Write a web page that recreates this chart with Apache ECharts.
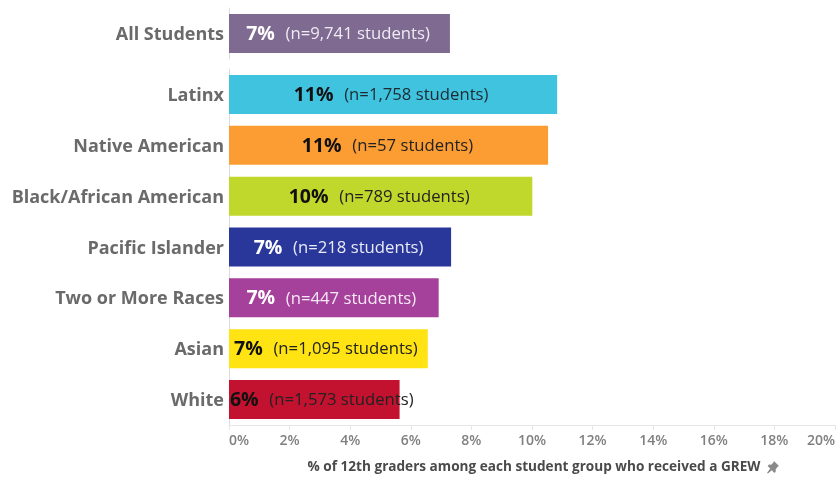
<!DOCTYPE html>
<html><head><meta charset="utf-8">
<style>html,body{margin:0;padding:0;background:#fff}#c{width:838px;height:479px}</style>
<script src="https://cdn.jsdelivr.net/npm/echarts@6/dist/echarts.min.js"></script>
</head><body><div id="c"></div>
<script>
const topCategories = ['All Students'];
const topValues = [7.28];
const topPercents = ['7%'];
const topCounts = ['(n=9,741 students)'];
const topColors = ['#7f6b91'];
const topText = ['#ffffff'];
const topSub = ['#efeaf3'];

const categories = ['Latinx','Native American','Black/African American','Pacific Islander','Two or More Races','Asian','White'];
const values = [10.83,10.53,10.01,7.33,6.92,6.56,5.63];
const percents = ['11%','11%','10%','7%','7%','7%','6%'];
const counts = ['(n=1,758 students)','(n=57 students)','(n=789 students)','(n=218 students)','(n=447 students)','(n=1,095 students)','(n=1,573 students)'];
const colors = ['#40c3df','#fb9d33','#c0d72c','#29379b','#a5409b','#ffe312','#c2122f'];
const pctColors = ['#111','#111','#111','#fff','#fff','#111','#111'];
const subColors = ['#1c2b30','#222','#222','#e8eaf6','#f6e8f4','#222','#222'];
const labelShift = [-2,-1,-1.5,-1.5,-2.5,-2.5,7.5];
const axisTicks = [0,2,4,6,8,10,12,14,16,18,20];
const axisTitle = '% of 12th graders among each student group who received a GREW';

const FONT = '"Open Sans","Noto Sans",sans-serif';
const rows = (vals, cols, pcts, cnts, pc, sc, shift) => vals.map((v, i) => ({
  value: v,
  itemStyle: {color: cols[i]},
  label: {
    show: true, position: 'inside', offset: [shift ? shift[i] : -1.5, 1],
    formatter: '{p|' + pcts[i] + '}  {n|' + cnts[i] + '}',
    rich: {
      p: {fontFamily: FONT, fontSize: 19.5, fontWeight: 700, color: pc[i]},
      n: {fontFamily: FONT, fontSize: 16.7, color: sc[i], padding: [0,0,0,4]}
    }
  }
}));
const catAxis = (idx, data) => ({
  type: 'category', gridIndex: idx, inverse: true, data,
  axisLine: {show: true, lineStyle: {color: '#dcdcdc', width: 1}},
  axisTick: {show: false},
  axisLabel: {fontFamily: FONT, fontSize: 18, fontWeight: 700, color: '#6a6a6a', margin: 5, verticalAlign: 'top', lineHeight: 3}
});
const chart = echarts.init(document.getElementById('c'), null, {renderer: 'canvas'});
chart.setOption({
  animation: false,
  backgroundColor: '#fff',
  grid: [
    {left: 229, width: 607, top: 8, height: 51},
    {left: 229, width: 607, top: 69, height: 357}
  ],
  xAxis: [
    {type: 'value', gridIndex: 0, min: 0, max: 20, interval: 2, show: false},
    {type: 'value', gridIndex: 1, min: 0, max: 20, interval: 2,
      splitLine: {show: false},
      axisLine: {show: true, lineStyle: {color: '#e6e6e6'}},
      axisTick: {show: true, length: 5, lineStyle: {color: '#e6e6e6'}},
      axisLabel: {fontFamily: FONT, fontSize: 14, fontWeight: 600, color: '#808080', margin: 9,
        formatter: v => axisTicks.includes(v) ? v + '%' : '',
        alignMinLabel: 'left', alignMaxLabel: 'right'},
      name: axisTitle, nameLocation: 'middle', nameGap: 35,
      nameTextStyle: {fontFamily: FONT, fontSize: 13.6, fontWeight: 700, color: '#4a4a4a', padding: [0,0,0,4]}
    }
  ],
  yAxis: [catAxis(0, topCategories), catAxis(1, categories)],
  series: [
    {type: 'bar', xAxisIndex: 0, yAxisIndex: 0, barWidth: 39,
      data: rows(topValues, topColors, topPercents, topCounts, topText, topSub)},
    {type: 'bar', xAxisIndex: 1, yAxisIndex: 1, barWidth: 39,
      data: rows(values, colors, percents, counts, pctColors, subColors, labelShift)}
  ],
  graphic: [{
    type: 'polygon', x: 767, y: 461,
    shape: {points: [[7,0],[12,5],[10.6,5.8],[8.6,8.4],[8.8,10.6],[7.4,12],[4.8,9.2],[1,12.6],[0,12],[3.2,7.6],[0.6,5],[2,3.6],[4.2,3.8],[6.4,1.6]]},
    style: {fill: '#8a8a8a'}
  }]
});
</script></body></html>
